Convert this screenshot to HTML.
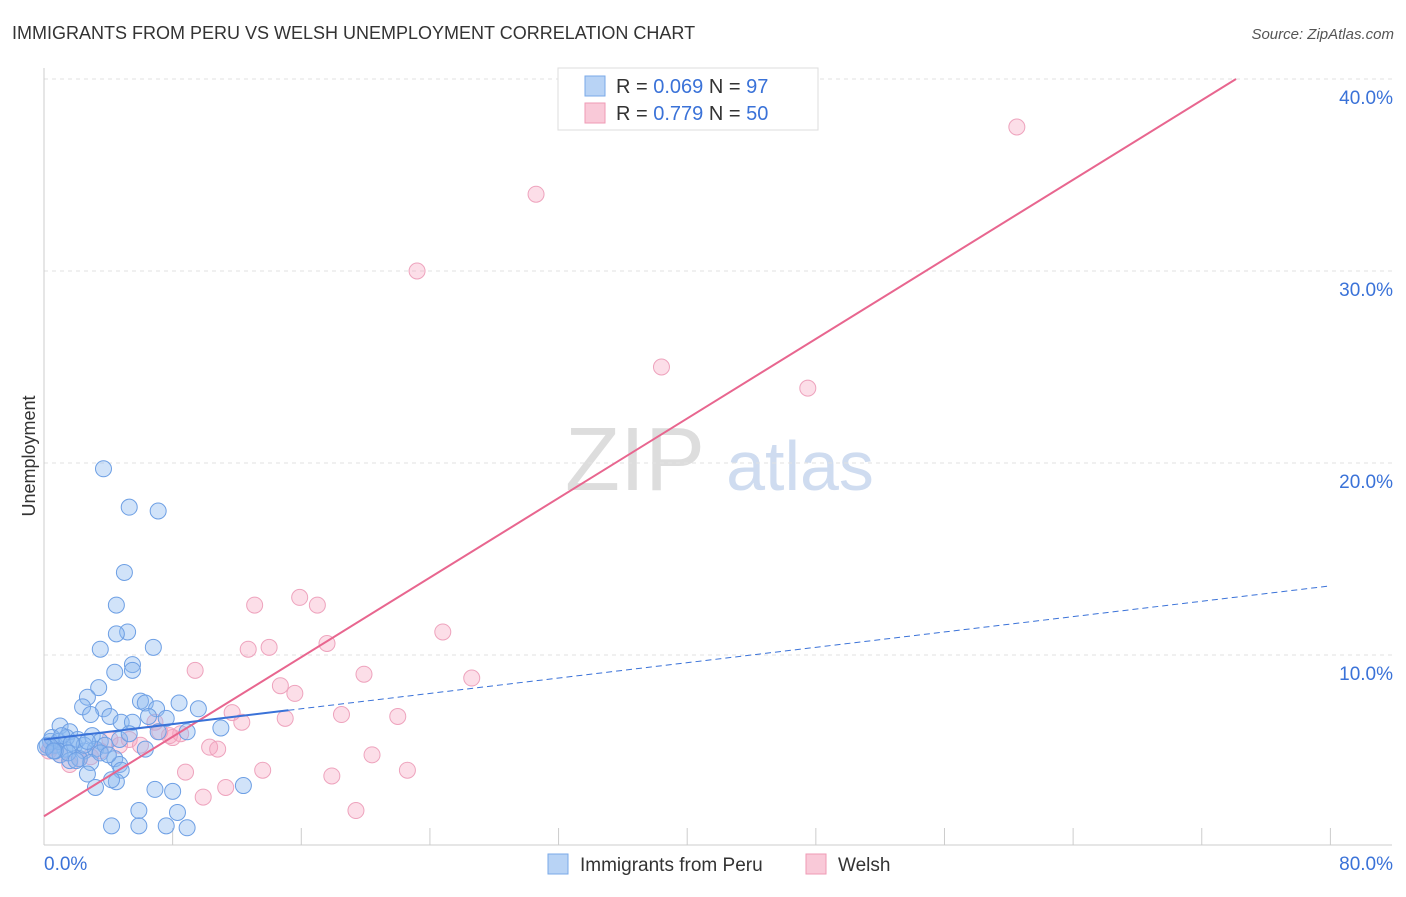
<!DOCTYPE html>
<html><head><meta charset="utf-8"><style>
body{margin:0;background:#fff;font-family:"Liberation Sans",sans-serif}
svg text{font-family:"Liberation Sans",sans-serif}
</style></head><body>
<svg id="chart" width="1406" height="892">
<text x="12" y="39" font-size="18" fill="#333">IMMIGRANTS FROM PERU VS WELSH UNEMPLOYMENT CORRELATION CHART</text>
<text x="1394" y="39" font-size="15" fill="#555" font-style="italic" text-anchor="end">Source: ZipAtlas.com</text>
<text x="35" y="456" font-size="18" fill="#333" text-anchor="middle" transform="rotate(-90 35 456)">Unemployment</text>
<g><text x="635" y="490" font-size="90" fill="#ddd" font-family="Liberation Serif" text-anchor="middle">ZIP</text><text x="800" y="490" font-size="70" fill="#cfdcf0" text-anchor="middle">atlas</text></g>
<g id="grid"></g><g id="axes"></g><g id="pts"></g><g id="lines"></g>
<g>
<rect x="558" y="68" width="260" height="62" fill="#fff" stroke="#ddd"/>
<rect x="585" y="76" width="20" height="20" fill="#b8d3f5" stroke="#7aa9e8"/>
<rect x="585" y="103" width="20" height="20" fill="#f9c9d8" stroke="#ef9ab5"/>
<text x="616" y="93" font-size="20" fill="#333">R = <tspan fill="#3a72d8">0.069</tspan>   N = <tspan fill="#3a72d8">97</tspan></text>
<text x="616" y="120" font-size="20" fill="#333">R =  <tspan fill="#3a72d8">0.779</tspan>   N = <tspan fill="#3a72d8">50</tspan></text>
</g>
<g>
<rect x="548" y="854" width="20" height="20" fill="#b8d3f5" stroke="#7aa9e8"/>
<text x="580" y="871" font-size="19" fill="#333">Immigrants from Peru</text>
<rect x="806" y="854" width="20" height="20" fill="#f9c9d8" stroke="#ef9ab5"/>
<text x="838" y="871" font-size="19" fill="#333">Welsh</text>
</g>
</svg>
<script>
const yTicks=[10,20,30,40];
const xTickLabels=["0.0%","80.0%"];
const peruX=[3.7,5.3,7.1,5.0,4.5,5.2,4.5,6.8,3.5,5.5,5.5,4.4,3.4,2.7,2.4,3.7,2.9,4.1,6.0,6.3,8.4,9.6,7.0,6.5,7.6,4.8,5.5,11.0,7.1,8.9,1.0,1.6,3.0,3.5,0.4,0.7,1.3,1.9,2.5,3.2,3.8,1.0,1.6,2.2,2.9,4.4,4.7,2.7,6.3,4.8,3.2,4.5,4.2,6.9,8.0,12.4,5.9,8.3,4.2,5.9,7.6,8.9,0.2,0.5,0.9,1.4,2.1,2.5,1.1,1.7,3.5,4.0,4.7,5.3,1.5,0.7,0.1,0.6,2.0,2.7];
const peruY=[19.7,17.7,17.5,14.3,12.6,11.2,11.1,10.4,10.3,9.5,9.2,9.1,8.3,7.8,7.3,7.2,6.9,6.8,7.6,7.5,7.5,7.2,7.2,6.8,6.7,6.5,6.5,6.2,6.0,6.0,6.3,6.0,5.8,5.5,5.5,5.3,5.1,5.3,5.0,5.1,5.3,4.8,4.5,4.6,4.4,4.6,4.3,3.8,5.1,4.0,3.1,3.4,3.5,3.0,2.9,3.2,1.9,1.8,1.1,1.1,1.1,1.0,5.3,5.7,5.5,5.7,5.6,5.3,5.8,5.4,4.9,4.8,5.6,5.9,4.9,5.0,5.2,5.0,4.5,5.5];
const welshX=[60.5,30.6,23.2,38.4,47.5,15.9,13.1,17.0,24.8,17.6,14.0,12.7,9.4,19.9,26.6,14.7,15.6,11.7,18.5,22.0,15.0,12.3,6.9,7.2,8.5,8.0,10.3,10.8,5.3,4.7,3.5,2.2,1.6,8.8,13.6,17.9,20.4,22.6,11.3,9.9,19.4,1.0,0.4,2.9,6.0,7.8,4.1,0.3];
const welshY=[37.5,34.0,30.0,25.0,23.9,13.0,12.6,12.6,11.2,10.6,10.4,10.3,9.2,9.0,8.8,8.4,8.0,7.0,6.9,6.8,6.7,6.5,6.5,6.0,5.9,5.7,5.2,5.1,5.6,5.3,5.0,4.6,4.3,3.9,4.0,3.7,4.8,4.0,3.1,2.6,1.9,4.8,5.2,4.7,5.3,5.8,5.6,5.0];
const welshFit=[1.6,0.518];
const peruFit=[5.6,0.1];
const ns="http://www.w3.org/2000/svg";
const X=v=>44+v*16.08, Y=v=>847-v*19.2;
function mk(t,a,p){const e=document.createElementNS(ns,t);for(const k in a)e.setAttribute(k,a[k]);document.getElementById(p).appendChild(e);return e;}
yTicks.forEach(t=>{
 const g=mk('line',{x1:44,x2:1392,y1:Y(t),y2:Y(t),stroke:'#e2e2e2','stroke-dasharray':'4,4'},'grid');
 
 
 const l=mk('text',{x:1393,y:Y(t)+25,'font-size':19,fill:'#3a72d8','text-anchor':'end'},'axes');l.textContent=t.toFixed(1)+'%';
 
 
});
const ax=mk('line',{x1:44,x2:1392,y1:845,y2:845,stroke:'#ccc'},'axes');


const ay=mk('line',{x1:44,x2:44,y1:68,y2:845,stroke:'#ccc'},'axes');


for(let i=1;i<=10;i++){const tk=mk('line',{x1:X(i*8),x2:X(i*8),y1:828,y2:845,stroke:'#ccc'},'axes');
 
 }
const xl0=mk('text',{x:44,y:870,'font-size':19,fill:'#3a72d8'},'axes');xl0.textContent=xTickLabels[0];


const xl1=mk('text',{x:1393,y:870,'font-size':19,fill:'#3a72d8','text-anchor':'end'},'axes');xl1.textContent=xTickLabels[1];


welshX.forEach((x,i)=>{const c=mk('circle',{cx:X(x),cy:Y(welshY[i]),r:8,fill:'rgba(245,160,190,0.35)',stroke:'#eea3bd','stroke-width':1},'pts');
 
 });
peruX.forEach((x,i)=>{const c=mk('circle',{cx:X(x),cy:Y(peruY[i]),r:8,fill:'rgba(140,185,240,0.4)',stroke:'#6d9fe4','stroke-width':1},'pts');
 
 });
const xe=(40-welshFit[0])/welshFit[1];
const wl=mk('line',{x1:X(0),y1:Y(welshFit[0]),x2:X(xe),y2:Y(40),stroke:'#e8668f','stroke-width':2},'lines');


const pl=mk('line',{x1:X(0),y1:Y(peruFit[0]),x2:X(15.2),y2:Y(peruFit[0]+peruFit[1]*15.2),stroke:'#3a72d8','stroke-width':2},'lines');


const pd=mk('line',{x1:X(15.2),y1:Y(peruFit[0]+peruFit[1]*15.2),x2:X(80),y2:Y(peruFit[0]+peruFit[1]*80),stroke:'#3a72d8','stroke-width':1,'stroke-dasharray':'6,4'},'lines');


</script>
</body></html>
